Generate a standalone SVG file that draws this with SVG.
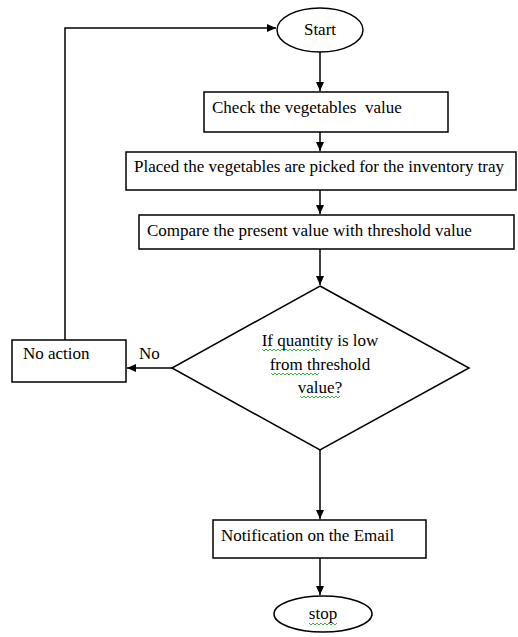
<svg xmlns="http://www.w3.org/2000/svg" width="518" height="637" viewBox="0 0 518 637">
<defs>
<style>
.s{fill:#fff;stroke:#000;stroke-width:1.5}
.t{font-family:"Liberation Serif","Times New Roman",serif;font-size:17px;fill:#000}
.c{fill:none;stroke:#000;stroke-width:1.5}
.w{fill:none;stroke:#3cb043;stroke-width:1}
</style>
<marker id="a" markerWidth="10" markerHeight="10" refX="9" refY="5" orient="auto" markerUnits="userSpaceOnUse">
<path d="M0,1 L9,5 L0,9 z" fill="#000"/>
</marker>
</defs>
<rect width="518" height="637" fill="#fff"/>
<g id="connectors">
<line class="c" x1="320" y1="52" x2="320" y2="91" marker-end="url(#a)"/>
<line class="c" x1="320" y1="132" x2="320" y2="151" marker-end="url(#a)"/>
<line class="c" x1="320" y1="190" x2="320" y2="214" marker-end="url(#a)"/>
<line class="c" x1="320" y1="249" x2="320" y2="285" marker-end="url(#a)"/>
<line class="c" x1="172" y1="368" x2="127" y2="368" marker-end="url(#a)"/>
<polyline class="c" points="65,340 65,28 276,28" marker-end="url(#a)"/>
<line class="c" x1="320" y1="450" x2="320" y2="519" marker-end="url(#a)"/>
<line class="c" x1="320" y1="558" x2="320" y2="595" marker-end="url(#a)"/>
<text class="t" x="139" y="359">No</text>
</g>
<g id="start">
<ellipse class="s" cx="320" cy="30" rx="43" ry="22"/>
<text class="t" x="320" y="35" text-anchor="middle">Start</text>
</g>
<g id="check">
<rect class="s" x="204" y="92" width="244" height="40"/>
<text class="t" x="212" y="113" xml:space="preserve">Check the vegetables  value</text>
</g>
<g id="placed">
<rect class="s" x="126" y="152" width="390" height="38"/>
<text class="t" x="134" y="172">Placed the vegetables are picked for the inventory tray</text>
</g>
<g id="compare">
<rect class="s" x="139" y="215" width="375" height="34"/>
<text class="t" x="147" y="236">Compare the present value with threshold value</text>
</g>
<g id="decision">
<polygon class="s" points="320,286 469,368 320,450 172,368"/>
<text class="t" x="320" y="346" text-anchor="middle">If quantity is low</text>
<text class="t" x="320" y="370" text-anchor="middle">from threshold</text>
<text class="t" x="320" y="393" text-anchor="middle">value?</text>
<path class="w" d="M262,349 l2,2 l2,-2 l2,2 l2,-2 l2,2 l2,-2 l2,2 l2,-2 l2,2 l2,-2 l2,2 l2,-2 l2,2 l2,-2 l2,2 l2,-2 l2,2 l2,-2 l2,2 l2,-2 l2,2 l2,-2 l2,2 l2,-2 l2,2 l2,-2 l2,2 l2,-2 l2,2"/>
<path class="w" d="M271,373 l2,2 l2,-2 l2,2 l2,-2 l2,2 l2,-2 l2,2 l2,-2 l2,2 l2,-2 l2,2 l2,-2 l2,2 l2,-2 l2,2 l2,-2 l2,2 l2,-2 l2,2 l2,-2 l2,2 l2,-2 l2,2 l2,-2"/>
<path class="w" d="M300,396 l2,2 l2,-2 l2,2 l2,-2 l2,2 l2,-2 l2,2 l2,-2 l2,2 l2,-2 l2,2 l2,-2 l2,2 l2,-2 l2,2 l2,-2 l2,2 l2,-2 l2,2 l2,-2"/>
</g>
<g id="noaction">
<rect class="s" x="12" y="340" width="114" height="42"/>
<text class="t" x="23" y="359">No action</text>
</g>
<g id="notify">
<rect class="s" x="213" y="520" width="213" height="38"/>
<text class="t" x="221" y="541">Notification on the Email</text>
</g>
<g id="stop">
<ellipse class="s" cx="323" cy="614" rx="49" ry="18"/>
<text class="t" x="323" y="619" text-anchor="middle">stop</text>
<path class="w" d="M309,623 l2,2 l2,-2 l2,2 l2,-2 l2,2 l2,-2 l2,2 l2,-2 l2,2 l2,-2 l2,2 l2,-2 l2,2 l2,-2"/>
</g>
</svg>
